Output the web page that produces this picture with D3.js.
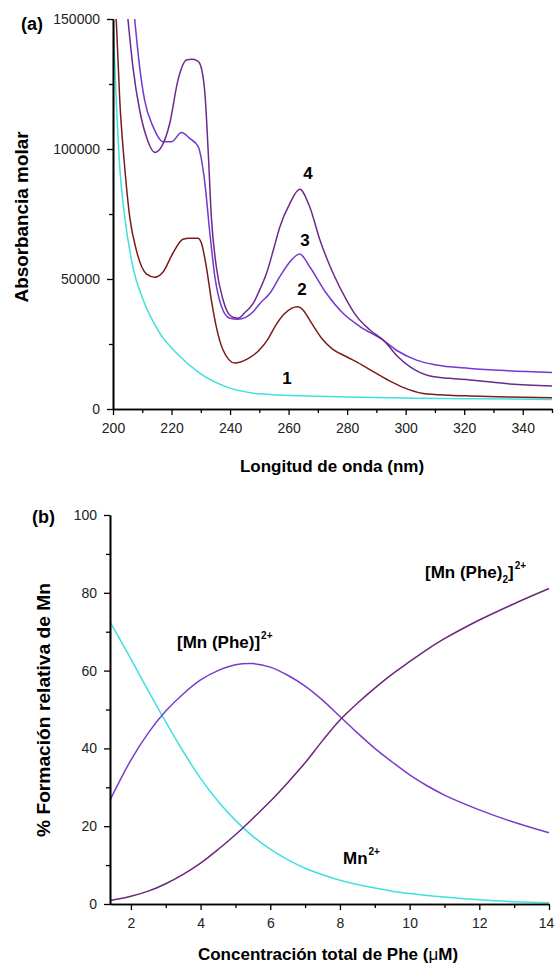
<!DOCTYPE html>
<html>
<head>
<meta charset="utf-8">
<script src="https://cdn.jsdelivr.net/npm/d3@7"></script>
<style>
  body { margin: 0; background: #fff; }
  text { font-family: "Liberation Sans", Arial, sans-serif; }
</style>
</head>
<body>
<svg id="chart" width="555" height="964"></svg>
<script>
// ---- panel (a): molar absorbance spectra ----
const wl1 = [200, 201.1, 202.3, 204, 206.8, 210.3, 216, 221.7, 229.6, 238.8, 247.9, 257, 270, 285, 303.7, 325, 350];
const abs1 = [150000, 119000, 93000, 74000, 54600, 42000, 29200, 21500, 13800, 8500, 6100, 5400, 4900, 4500, 4100, 3900, 3700];

const wl2 = [201.1, 202.3, 204, 205.7, 208, 211.4, 214.3, 217.1, 220.5, 223.9, 226, 229, 230.2, 231.9, 233.6, 235.3, 237.6, 241.6, 246, 250, 253, 255.5, 258.5, 261, 263.2, 265, 267.2, 271.8, 275, 279.8, 285, 290, 295, 299.1, 306, 315, 322, 335, 350];
const abs2 = [150000, 119000, 93000, 74000, 61000, 52000, 50700, 52700, 60000, 65300, 65700, 65700, 63800, 54600, 42000, 31600, 22700, 17700, 19300, 22700, 27000, 32000, 36500, 38700, 39300, 38000, 34200, 26500, 23000, 20100, 17000, 13700, 10500, 8300, 6000, 5300, 5000, 4600, 4300];

const wl3 = [207.4, 209.1, 210.8, 213.7, 217.1, 220, 223.4, 226.2, 229.1, 231.4, 233.1, 234.8, 237.1, 239.9, 242.7, 247.9, 250.2, 253.6, 257, 260, 263.8, 267.2, 272.9, 278.6, 284.4, 292.3, 297, 303.7, 310, 322, 335, 350];
const abs3 = [150000, 131600, 118800, 108600, 102800, 102800, 106300, 104100, 100900, 86800, 67600, 50900, 39300, 34900, 34500, 37400, 40600, 44500, 50900, 56000, 59600, 54700, 44500, 36800, 31700, 26500, 22500, 18800, 17000, 15600, 14700, 14000];

const wl4 = [205.1, 206.8, 209.1, 211.4, 214.3, 216.6, 219.4, 222.2, 225.1, 227, 228.7, 229.6, 231.4, 232.5, 233.6, 235.3, 237.6, 240.5, 242.7, 245, 247.9, 250.2, 252.4, 255, 257, 260.4, 263.8, 267.2, 270.7, 275.2, 279.8, 283, 287.8, 292.9, 297, 301.4, 308.3, 315, 322, 335.6, 350];
const abs4 = [150000, 131600, 115000, 104700, 98700, 100900, 109900, 126500, 134200, 134500, 134000, 133000, 121400, 99600, 74000, 54700, 42000, 35500, 34900, 37000, 40600, 46000, 52000, 62000, 70000, 79000, 84500, 77800, 65000, 52200, 41900, 36000, 30400, 25900, 20500, 16300, 12700, 11800, 11200, 9600, 8800];

const aMajorX = [200, 220, 240, 260, 280, 300, 320, 340];
const aMinorX = [210, 230, 250, 270, 290, 310, 330, 350];
const aMajorY = [0, 50000, 100000, 150000];
const aMinorY = [25000, 75000, 125000];

// ---- panel (b): species distribution ----
const conc = [1.4, 2, 2.5, 3, 3.5, 4, 4.5, 5, 5.5, 6, 6.5, 7, 7.5, 8, 8.5, 9, 9.5, 10, 10.5, 11, 12, 13, 14];
const mnFree = [72.5, 63, 54.8, 46.8, 39.2, 32.3, 26.4, 21.5, 17.4, 14.1, 11.4, 9.2, 7.5, 6.1, 5.0, 4.1, 3.3, 2.7, 2.2, 1.8, 1.1, 0.6, 0.3];
const mnPhe = [26.7, 37.0, 44.0, 49.6, 54.0, 57.6, 60.0, 61.5, 61.8, 60.9, 58.8, 56.0, 52.4, 48.2, 44.0, 40.0, 36.5, 33.2, 30.4, 28.0, 24.2, 21.0, 18.3];
const mnPhe2 = [0.9, 2.0, 3.3, 5.2, 7.6, 10.5, 14.0, 17.8, 22.0, 26.4, 31.2, 36.3, 42.0, 47.3, 51.6, 55.5, 59.1, 62.3, 65.4, 68.2, 73.0, 77.2, 81.1];

const bMajorX = [2, 4, 6, 8, 10, 12, 14];
const bMinorX = [3, 5, 7, 9, 11, 13];
const bMajorY = [0, 20, 40, 60, 80, 100];
const bMinorY = [10, 30, 50, 70, 90];

const svg = d3.select('#chart');

const drawAxes = (g, x, y, majX, minX, majY, minY) => {
    g.append('g').attr('class', 'xmaj').attr('transform', 'translate(0,' + y.range()[0] + ')')
        .call(d3.axisBottom(x).tickValues(majX).tickSize(6).tickPadding(8).tickSizeOuter(0).tickFormat(d3.format('d')));
    g.append('g').attr('transform', 'translate(0,' + y.range()[0] + ')')
        .call(d3.axisBottom(x).tickValues(minX).tickSize(4).tickFormat('').tickSizeOuter(0));
    g.append('g').attr('transform', 'translate(' + x.range()[0] + ',0)')
        .call(d3.axisLeft(y).tickValues(majY).tickSize(6).tickPadding(7).tickSizeOuter(0).tickFormat(d3.format('d')));
    g.append('g').attr('transform', 'translate(' + x.range()[0] + ',0)')
        .call(d3.axisLeft(y).tickValues(minY).tickSize(4).tickFormat('').tickSizeOuter(0));
    g.selectAll('.domain').attr('stroke', '#000').attr('stroke-width', 1.6);
    g.selectAll('.tick line').attr('stroke', '#000').attr('stroke-width', 1.3);
    g.selectAll('.tick text').attr('font-size', 14).attr('fill', '#222')
        .style('font-family', '"Liberation Sans", Arial, sans-serif');
};

// panel (a)
const xA = d3.scaleLinear().domain([200, 350]).range([113, 552]);
const yA = d3.scaleLinear().domain([0, 150000]).range([409, 19]);
const gA = svg.append('g');

svg.append('clipPath').attr('id', 'clipA').append('rect')
    .attr('x', 113).attr('y', 19).attr('width', 439).attr('height', 390);

const lineA = d3.line().x(d => xA(d[0])).y(d => yA(d[1])).curve(d3.curveMonotoneX);
const specs = [
    {wl: wl1, ab: abs1, color: '#3fe0e0'},
    {wl: wl2, ab: abs2, color: '#7a1c1c'},
    {wl: wl3, ab: abs3, color: '#7438d0'},
    {wl: wl4, ab: abs4, color: '#6c2a8c'}
];
specs.forEach(s => {
    gA.append('path')
        .datum(s.wl.map((w, i) => [w, s.ab[i]]))
        .attr('clip-path', 'url(#clipA)')
        .attr('fill', 'none')
        .attr('stroke', s.color)
        .attr('stroke-width', 1.5)
        .attr('d', lineA);
});
drawAxes(gA, xA, yA, aMajorX, aMinorX, aMajorY, aMinorY);

const curveLabels = [['4', 308, 173], ['3', 305, 240], ['2', 302, 289], ['1', 287, 378]];
gA.selectAll('.clab').data(curveLabels).enter().append('text')
    .attr('x', d => d[1]).attr('y', d => d[2])
    .attr('text-anchor', 'middle').attr('dominant-baseline', 'central')
    .attr('font-size', 17).attr('font-weight', 'bold')
    .text(d => d[0]);

gA.append('text').attr('x', 21).attr('y', 30).attr('font-size', 18).attr('font-weight', 'bold').text('(a)');
gA.append('text').attr('x', 332).attr('y', 472).attr('text-anchor', 'middle')
    .attr('font-size', 17).attr('font-weight', 'bold').text('Longitud de onda (nm)');
gA.append('text').attr('transform', 'translate(28,217) rotate(-90)').attr('text-anchor', 'middle')
    .attr('font-size', 18).attr('font-weight', 'bold')
    .attr('textLength', 171).attr('lengthAdjust', 'spacingAndGlyphs').text('Absorbancia molar');

// panel (b)
const xB = d3.scaleLinear().domain([1.4, 14]).range([110, 549]);
const yB = d3.scaleLinear().domain([0, 100]).range([904, 515]);
const gB = svg.append('g');

const lineB = d3.line().x(d => xB(d[0])).y(d => yB(d[1])).curve(d3.curveCatmullRom.alpha(0.5));
const species = [
    {v: mnFree, color: '#3fe0e0'},
    {v: mnPhe, color: '#7a3cc8'},
    {v: mnPhe2, color: '#6a2878'}
];
species.forEach(s => {
    gB.append('path')
        .datum(conc.map((c, i) => [c, s.v[i]]))
        .attr('fill', 'none')
        .attr('stroke', s.color)
        .attr('stroke-width', 1.5)
        .attr('d', lineB);
});
drawAxes(gB, xB, yB, bMajorX, bMinorX, bMajorY, bMinorY);
// last x label sits against the right edge
gB.selectAll('.xmaj .tick text').filter(d => d === 14).attr('dx', -3);

gB.append('text').attr('x', 32).attr('y', 523).attr('font-size', 18).attr('font-weight', 'bold').text('(b)');
const xl = gB.append('text').attr('x', 328).attr('y', 960).attr('text-anchor', 'middle')
    .attr('font-size', 17).attr('font-weight', 'bold');
xl.append('tspan').text('Concentración total de Phe (');
xl.append('tspan').attr('font-weight', 'normal').text('μ');
xl.append('tspan').text('M)');
gB.append('text').attr('transform', 'translate(50,710) rotate(-90)').attr('text-anchor', 'middle')
    .attr('font-size', 18).attr('font-weight', 'bold')
    .attr('textLength', 254).attr('lengthAdjust', 'spacingAndGlyphs').text('% Formación relativa de Mn');

// species labels
const t1 = gB.append('text').attr('x', 177).attr('y', 648).attr('font-size', 17).attr('font-weight', 'bold');
t1.append('tspan').text('[Mn (Phe)]');
t1.append('tspan').attr('font-size', 10).attr('dy', -9).attr('dx', 1).text('2+');

const t2 = gB.append('text').attr('x', 425).attr('y', 578).attr('font-size', 17).attr('font-weight', 'bold');
t2.append('tspan').text('[Mn (Phe)');
t2.append('tspan').attr('font-size', 10).attr('dy', 5).text('2');
t2.append('tspan').attr('dy', -5).text(']');
t2.append('tspan').attr('font-size', 10).attr('dy', -9).attr('dx', 1).text('2+');

const t3 = gB.append('text').attr('x', 343).attr('y', 864).attr('font-size', 17).attr('font-weight', 'bold');
t3.append('tspan').text('Mn');
t3.append('tspan').attr('font-size', 10).attr('dy', -9).attr('dx', 1).text('2+');
</script>
</body>
</html>
